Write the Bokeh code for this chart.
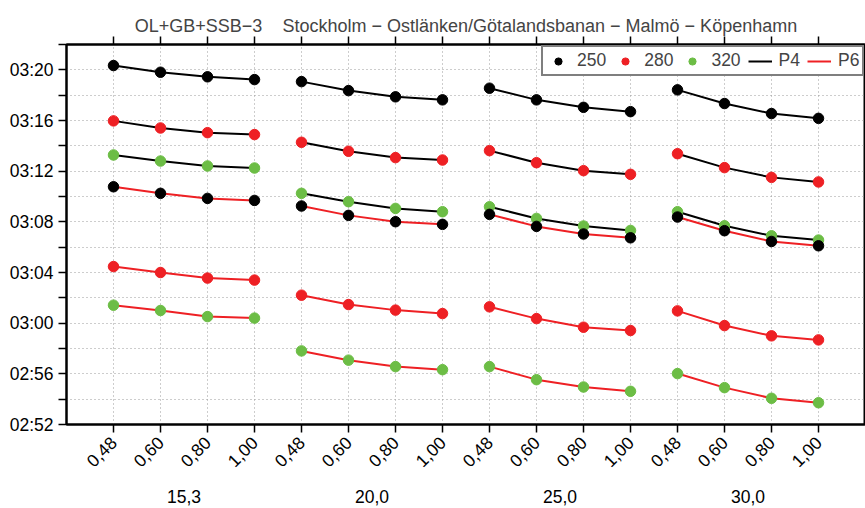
from bokeh.plotting import figure
from bokeh.models import (FixedTicker, LinearAxis, Range1d, Legend, LegendItem, Grid)
from bokeh.embed import file_html
from bokeh.resources import INLINE
import math

# ---------------- data (minutes after midnight) ----------------
groups = ["15,3", "20,0", "25,0", "30,0"]
subcats = ["0,48", "0,60", "0,80", "1,00"]
speeds = ["250", "280", "320"]

p4_250 = [200.34, 199.81, 199.45, 199.23,
          199.07, 198.36, 197.87, 197.63,
          198.55, 197.63, 197.04, 196.70,
          198.42, 197.34, 196.55, 196.17]
p4_280 = [195.97, 195.41, 195.04, 194.89,
          194.28, 193.57, 193.07, 192.88,
          193.62, 192.67, 192.04, 191.75,
          193.38, 192.28, 191.51, 191.15]
p4_320 = [193.28, 192.80, 192.41, 192.25,
          190.25, 189.59, 189.06, 188.80,
          189.19, 188.27, 187.67, 187.32,
          188.80, 187.69, 186.90, 186.56]
p6_250 = [190.77, 190.25, 189.85, 189.69,
          189.25, 188.51, 188.01, 187.80,
          188.59, 187.64, 187.04, 186.74,
          188.38, 187.30, 186.45, 186.11]
p6_280 = [184.47, 184.00, 183.56, 183.40,
          182.21, 181.47, 181.03, 180.76,
          181.29, 180.36, 179.68, 179.42,
          180.97, 179.81, 179.00, 178.68]
p6_320 = [181.42, 181.00, 180.52, 180.40,
          177.81, 177.08, 176.57, 176.33,
          176.57, 175.54, 174.96, 174.62,
          176.02, 174.91, 174.07, 173.72]

y_ticks = [172, 176, 180, 184, 188, 192, 196, 200]
y_minor = [174, 178, 182, 186, 190, 194, 198, 202]

# ---------------- styling ----------------
FONT = "Liberation Sans"
RED = "#ee2024"
GREEN = "#6cbd45"
BLACK = "#000000"
speed_colors = {"250": BLACK, "280": RED, "320": GREEN}

n_sub = len(subcats)
n = len(groups) * n_sub
xs = list(range(n))


def fmt(m):
    return "%02d:%02d" % (int(m) // 60, int(m) % 60)


def broken(vals):
    bx, by = [], []
    for g in range(len(groups)):
        for k in range(n_sub):
            i = g * n_sub + k
            bx.append(xs[i])
            by.append(vals[i])
        bx.append(float("nan"))
        by.append(float("nan"))
    return bx, by


p = figure(width=865, height=508, x_range=Range1d(-1, 16), y_range=Range1d(172, 202),
           output_backend="svg", toolbar_location=None,
           x_axis_type=None, y_axis_type=None,
           min_border_left=66, min_border_right=0, min_border_top=44, min_border_bottom=84)
p.outline_line_color = "black"
p.outline_line_width = 2
p.background_fill_color = "white"
p.border_fill_color = "white"

p.title.text = "OL+GB+SSB\u22123\u00a0\u00a0\u00a0\u00a0Stockholm \u2212 Ostlänken/Götalandsbanan \u2212 Malmö \u2212 Köpenhamn"
p.title.align = "center"
p.title.text_font = FONT
p.title.text_font_size = "18px"
p.title.text_font_style = "normal"
p.title.offset = 0
p.title.standoff = 2

xticker = FixedTicker(ticks=xs)
yticker = FixedTicker(ticks=y_ticks, minor_ticks=y_minor)

grid_kw = dict(grid_line_color="#9a9a9a", grid_line_dash="1 3", grid_line_width=1)
p.add_layout(Grid(dimension=0, ticker=xticker, **grid_kw))
p.add_layout(Grid(dimension=1, ticker=FixedTicker(ticks=y_ticks + y_minor), **grid_kw))


def style_axis(ax):
    ax.axis_line_width = 2
    ax.axis_line_color = "black"
    ax.major_tick_line_width = 1.5
    ax.minor_tick_line_width = 1.5
    ax.major_tick_in = 0
    ax.major_tick_out = 8
    ax.minor_tick_in = 0
    ax.minor_tick_out = 8
    ax.major_label_text_font = FONT
    ax.major_label_text_font_size = "17.5px"
    ax.major_label_text_color = "black"


yax = LinearAxis(ticker=yticker, major_label_overrides={t: fmt(t) for t in y_ticks})
style_axis(yax)
yax.major_label_standoff = 5
p.add_layout(yax, "left")

xax = LinearAxis(ticker=xticker,
                 major_label_overrides={i: subcats[i % n_sub] for i in xs})
style_axis(xax)
xax.major_label_orientation = math.pi / 4
xax.major_label_standoff = 7
p.add_layout(xax, "below")

gax = LinearAxis(ticker=FixedTicker(ticks=[g * n_sub + 1.5 for g in range(len(groups))]),
                 major_label_overrides={g * n_sub + 1.5: groups[g] for g in range(len(groups))})
style_axis(gax)
gax.axis_line_color = None
gax.major_tick_line_color = None
gax.minor_tick_line_color = None
gax.major_tick_out = 0
gax.major_label_standoff = 14
p.add_layout(gax, "below")

tax = LinearAxis(ticker=xticker, major_label_overrides={i: "" for i in xs})
style_axis(tax)
tax.major_label_standoff = 0
p.add_layout(tax, "above")

# ---------------- lines ----------------
line_p4 = None
line_p6 = None
for vals in [p4_250, p4_280, p4_320]:
    bx, by = broken(vals)
    line_p4 = p.line(bx, by, line_color=BLACK, line_width=2)
for vals in [p6_250, p6_280, p6_320]:
    bx, by = broken(vals)
    line_p6 = p.line(bx, by, line_color=RED, line_width=2)

# ---------------- points ----------------
series_by_speed = {"250": [p4_250, p6_250], "280": [p4_280, p6_280], "320": [p4_320, p6_320]}
pts = {}
for sp in ["320", "280", "250"]:
    px, py = [], []
    for vals in series_by_speed[sp]:
        px += xs
        py += vals
    pts[sp] = p.scatter(px, py, marker="circle", size=10.5,
                        fill_color=speed_colors[sp], line_color=speed_colors[sp])

legend = Legend(items=[LegendItem(label="250", renderers=[pts["250"]]),
                       LegendItem(label="280", renderers=[pts["280"]]),
                       LegendItem(label="320", renderers=[pts["320"]]),
                       LegendItem(label="P4", renderers=[line_p4]),
                       LegendItem(label="P6", renderers=[line_p6])],
                orientation="horizontal", location=(475, 348))
legend.margin = 0
legend.padding = 3
legend.spacing = 7
legend.glyph_width = 24
legend.glyph_height = 18
legend.label_height = 18
legend.label_standoff = 7
legend.label_text_font = FONT
legend.label_text_font_size = "17.5px"
legend.border_line_color = "black"
legend.border_line_width = 2
legend.background_fill_alpha = 1
p.add_layout(legend, "center")

open("out.html", "w").write(file_html(p, INLINE))
